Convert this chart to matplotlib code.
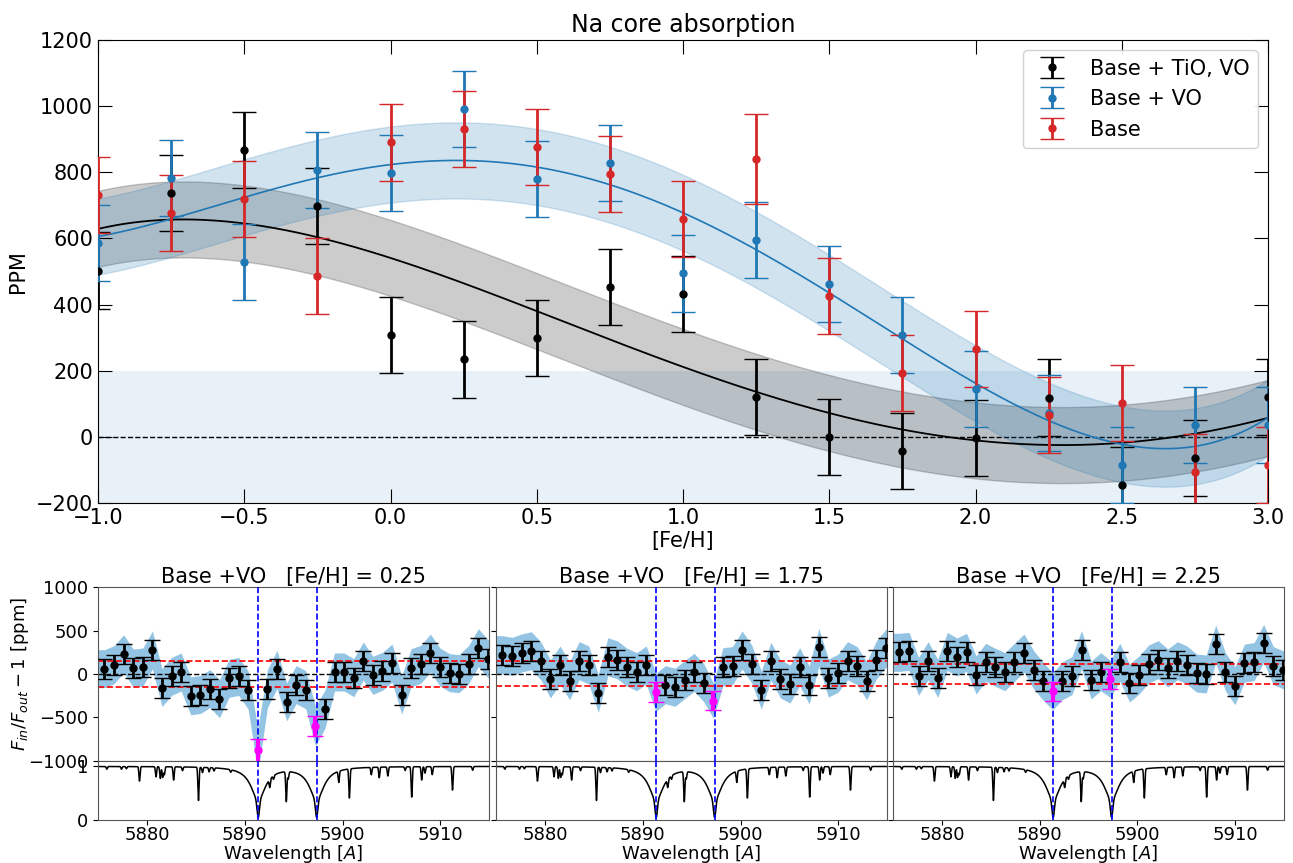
import numpy as np
import matplotlib
matplotlib.use("Agg")
import matplotlib.pyplot as plt

# ---------------- metallicity scan (top panel) ----------------
feh = [-1.0, -0.75, -0.5, -0.25, 0.0, 0.25, 0.5, 0.75, 1.0,
       1.25, 1.5, 1.75, 2.0, 2.25, 2.5, 2.75, 3.0]

ppm_tio_vo = [503, 737, 868, 699, 307, 234, 298, 454, 431,
              121, 0, -44, -2, 119, -145, -64, 120]
err_tio_vo = [115] * 17

ppm_vo = [585, 784, 530, 806, 798, 991, 780, 828, 494,
          595, 463, 309, 145, 72, -85, 36, 35]
err_vo = [115] * 17

ppm_base = [732, 677, 719, 487, 890, 930, 877, 796, 659,
            841, 426, 193, 265, 67, 102, -105, -85]
err_base = [115, 115, 115, 115, 115, 115, 115, 115, 115,
            136, 115, 115, 115, 115, 115, 115, 115]

# smooth trend curves sampled on the [Fe/H] grid, with 1-sigma half width
trend_tio_vo = [629, 656, 646, 603, 542, 465, 379, 293, 213,
                137, 72, 21, -9, -25, -19, 11, 57]
trend_vo = [606, 659, 722, 787, 822, 835, 814, 765, 678,
            565, 429, 308, 157, 46, -19, -29, 58]
trend_halfwidth = 115

# ---------------- binned transmission spectra (bottom panels) ----------------
wl_start, wl_step, n_bins = 5875.66, 0.98, 41
core_idx = [16, 22]          # bins sitting on the Na D2 / D1 cores
na_lines = [5891.38, 5897.35]

panels = [
    dict(title="Base +VO   [Fe/H] = 0.25",
         ppm=[61, 107, 232, 68, 80, 277, -156, -27, 23, -251, -236, -168, -283, -50,
              -27, -188, -877, -168, 54, -321, -122, -180, -598, -406, 23, 23, -42,
              149, -15, 31, 126, -241, 73, 111, 241, 80, 15, 4, 111, 303, 176],
         core_err=[135, 120], level=[153, -149]),
    dict(title="Base +VO   [Fe/H] = 1.75",
         ppm=[222, 203, 241, 268, 153, -57, 103, -77, 153, 103, -222, 199, 161, 77,
              27, 103, -211, -123, -153, -65, 19, -100, -306, 84, 96, 276, 115, -184,
              146, -57, -115, 84, -126, 306, -46, 8, 153, 96, -77, 161, 295],
         core_err=[115, 107], level=[150, -142]),
    dict(title="Base +VO   [Fe/H] = 2.25",
         ppm=[249, 260, -27, 153, -50, 260, 195, 249, -11, 134, 77, 27, 134, 241, 50,
              -84, -199, -77, -19, 280, -69, 27, -57, 134, -103, -11, 115, 165, 69,
              153, 103, 11, 0, 345, 27, -134, 126, 142, 352, 96, 50],
         core_err=[111, 112], level=[115, -111]),
]
bin_err = 115

# stellar template: Na D doublet plus weaker photospheric lines (centre, depth)
weak_lines = [(5875.9, 0.05), (5877.4, 0.05), (5877.9, 0.04), (5879.24, 0.27),
              (5880.93, 0.19), (5881.37, 0.22), (5881.61, 0.20), (5881.78, 0.15),
              (5882.73, 0.25), (5883.64, 0.07), (5885.27, 0.63), (5885.68, 0.10),
              (5886.36, 0.08), (5886.86, 0.06), (5888.56, 0.05), (5892.56, 0.20),
              (5892.95, 0.08), (5894.25, 0.62), (5894.45, 0.15), (5899.61, 0.23),
              (5900.70, 0.57), (5902.94, 0.14), (5903.75, 0.20), (5904.63, 0.17),
              (5906.40, 0.07), (5907.07, 0.57), (5908.09, 0.25), (5908.43, 0.12),
              (5909.17, 0.15), (5911.24, 0.44), (5913.30, 0.07)]

# ---------------- figure ----------------
fig = plt.figure(figsize=(12.93, 8.63), dpi=100)
plt.rcParams['font.family'] = ['DejaVu Sans']

ax = fig.add_axes([0.0758, 0.4171, 0.9049, 0.5366])
xf = np.linspace(-1.0, 3.0, 400)
ax.axhspan(-200, 200, color='C0', alpha=0.1, lw=0, zorder=0)
ax.axhline(0, color='k', ls='--', lw=1, zorder=1)

for trend, col, lw in [(trend_tio_vo, 'k', 1.3), (trend_vo, 'C0', 1.2)]:
    coef = np.polyfit(feh, trend, 6)
    yf = np.polyval(coef, xf)
    ax.fill_between(xf, yf - trend_halfwidth, yf + trend_halfwidth,
                    color=col, alpha=0.2, lw=1, zorder=1)
    ax.plot(xf, yf, color=col, lw=lw, zorder=2)

eb_kw = dict(fmt='o', ms=5, elinewidth=2, capsize=8.5, capthick=1, zorder=3)
ax.errorbar(feh, ppm_tio_vo, yerr=err_tio_vo, color='k', label='Base + TiO, VO', **eb_kw)
ax.errorbar(feh, ppm_vo, yerr=err_vo, color='C0', label='Base + VO', **eb_kw)
ax.errorbar(feh, ppm_base, yerr=err_base, color='C3', label='Base', **eb_kw)

ax.set_xlim(-1.0, 3.0)
ax.set_ylim(-200, 1200)
ax.set_xticks(np.arange(-1.0, 3.01, 0.5))
ax.set_yticks(np.arange(-200, 1201, 200))
ax.tick_params(direction='in', length=10, top=True, right=True, labelsize=15)
ax.set_xlabel('[Fe/H]', fontsize=15, labelpad=2)
ax.set_ylabel('PPM', fontsize=15, labelpad=6)
ax.set_title('Na core absorption', fontsize=17, pad=6)
ax.legend(loc='upper right', fontsize=15, framealpha=0.9)

# ---------------- bottom panels ----------------
wl = wl_start + wl_step * np.arange(n_bins)
wave = np.linspace(5875, 5915, 6000)
flux = np.ones_like(wave)
for c in na_lines:
    absorb = 0.62 / (1 + ((wave - c) / 0.9) ** 2) + 0.33 * np.exp(-0.5 * ((wave - c) / 0.12) ** 2)
    flux *= 1 - absorb
for c, d in weak_lines:
    flux *= 1 - d * np.exp(-0.5 * ((wave - c) / 0.06) ** 2)

lefts = [0.0758, 0.3836, 0.6906]
width = 0.3026
for i, (p, x0) in enumerate(zip(panels, lefts)):
    axu = fig.add_axes([x0, 0.1182, width, 0.2016])
    axl = fig.add_axes([x0, 0.0498, width, 0.0684], sharex=axu)
    ppm = np.array(p['ppm'], dtype=float)
    err = np.full(n_bins, float(bin_err))
    err[core_idx] = p['core_err']
    # shaded envelope around the binned points, carried to the plot edges
    xb = np.r_[5875.0, wl, 5915.0]
    yb = np.r_[ppm[0], ppm, ppm[-1]]
    eb = np.r_[err[0], err, err[-1]] * 1.9
    axu.fill_between(xb, yb - eb, yb + eb, color='#93c4e4', lw=0, zorder=1)
    axu.axhline(0, color='k', ls='--', lw=1, zorder=2)
    for lv in p['level']:
        axu.axhline(lv, color='red', ls='--', lw=1.2, zorder=2)
    mask = np.ones(n_bins, bool)
    mask[core_idx] = False
    axu.errorbar(wl[mask], ppm[mask], yerr=err[mask], fmt='o', color='k', ms=5,
                 elinewidth=2, capsize=5.5, capthick=1, zorder=4)
    axu.errorbar(wl[core_idx], ppm[core_idx], yerr=err[core_idx], fmt='o', color='magenta',
                 ms=5, elinewidth=3, capsize=5.5, capthick=1, zorder=5)
    for c in na_lines:
        axu.axvline(c, color='blue', ls='--', lw=1.2, zorder=3)
        axl.axvline(c, color='blue', ls='--', lw=1.2, zorder=3)
    axl.plot(wave, flux, color='k', lw=1.1, zorder=2)

    axu.set_xlim(5875, 5915)
    axu.set_ylim(-1000, 1000)
    axu.set_yticks([-1000, -500, 0, 500, 1000])
    axl.set_ylim(0, 1.1)
    axl.set_yticks([0, 1])
    axl.set_xticks([5880, 5890, 5900, 5910])
    axu.tick_params(labelbottom=False, bottom=False, labelsize=13)
    axl.tick_params(labelsize=13)
    axl.tick_params(axis='x', pad=1)
    axu.set_title(p['title'], fontsize=15, pad=3)
    axl.set_xlabel('Wavelength [$A$]', fontsize=13, labelpad=-1)
    if i == 0:
        axu.set_ylabel('$F_{in}/F_{out} - 1$ [ppm]', fontsize=13)
        axu.yaxis.set_label_coords(-0.17, 0.5)
    else:
        axu.tick_params(labelleft=False)
        axl.tick_params(labelleft=False)
    for a in (axu, axl):
        for s in a.spines.values():
            s.set_color('#555555')

fig.savefig('out.png', dpi=100)
